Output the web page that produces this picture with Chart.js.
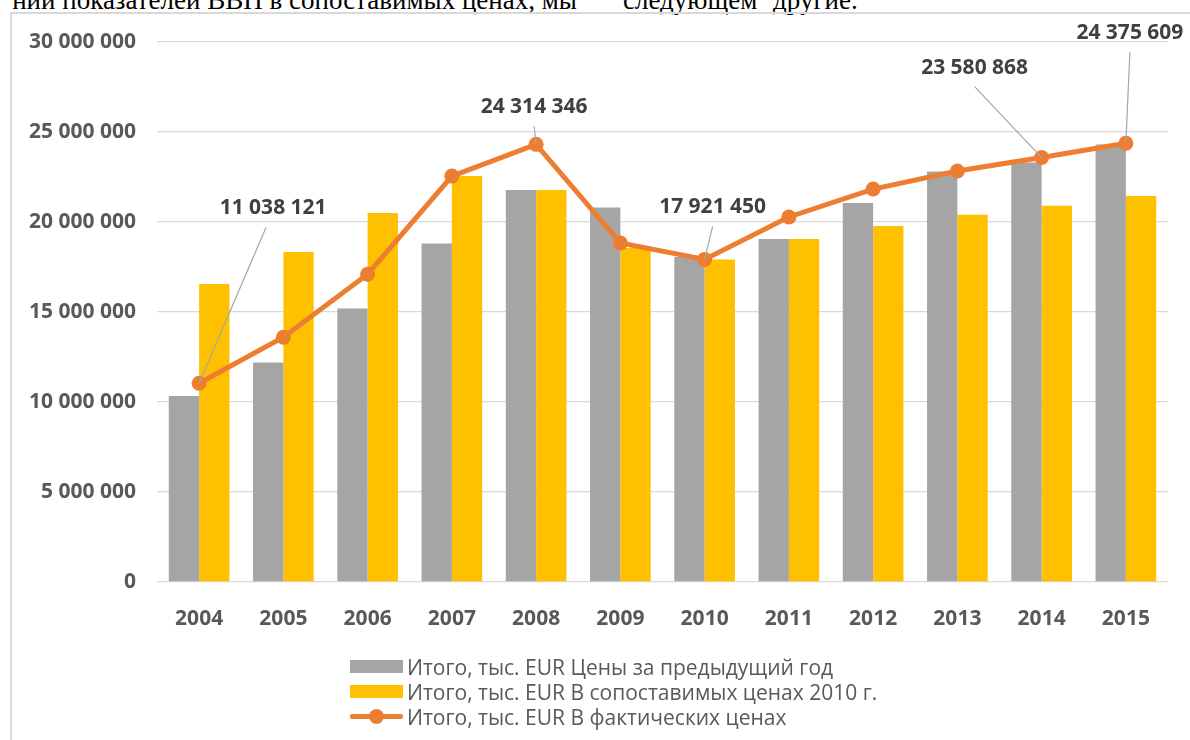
<!DOCTYPE html>
<html><head><meta charset="utf-8">
<script src="https://cdn.jsdelivr.net/npm/chart.js@4.4.1/dist/chart.umd.min.js"></script>
<style>
html,body{margin:0;padding:0;background:#fff;width:1190px;height:740px;overflow:hidden;}
.doc{position:absolute;top:-14px;font-family:"Liberation Serif",serif;font-size:27px;white-space:pre;color:#000;line-height:28px;}
#frame{position:absolute;left:10px;top:12px;width:1200px;height:800px;border-left:2px solid #d9d9d9;border-top:2px solid #d9d9d9;}
#c{position:absolute;left:0;top:0;}
#legend{position:absolute;left:350px;top:654px;font-family:"Open Sans",sans-serif;font-size:21px;color:#595959;}
.li{height:25px;display:flex;align-items:center;white-space:nowrap;}
.sw{width:53px;height:13px;margin-right:4px;position:relative;flex:none;}
</style></head>
<body>
<div class="doc" style="right:613px;text-align:right">ний показателей ВВП в сопоставимых ценах, мы</div>
<div class="doc" style="left:623px">следующем</div>
<div class="doc" style="left:773px">другие.</div>
<div id="frame"></div>
<canvas id="c" width="1190" height="740"></canvas>
<div id="legend"></div>
<script>
const categories = ['2004','2005','2006','2007','2008','2009','2010','2011','2012','2013','2014','2015'];
const prevYearPrices = [10330000, 12200000, 15200000, 18800000, 21780000, 20800000, 18050000, 19050000, 21050000, 22800000, 23300000, 24300000];
const constPrices2010 = [16550000, 18330000, 20500000, 22550000, 21780000, 18550000, 17921450, 19050000, 19780000, 20400000, 20900000, 21450000];
const actualPrices = [11038121, 13600000, 17100000, 22550000, 24314346, 18830000, 17921450, 20280000, 21830000, 22830000, 23580868, 24375609];
const seriesNames = ['Итого, тыс. EUR Цены за предыдущий год', 'Итого, тыс. EUR В сопоставимых ценах 2010 г.', 'Итого, тыс. EUR В фактических ценах'];
const yMin = 0, yMax = 30000000, yStep = 5000000;
const labeledIndices = [0, 4, 6, 10, 11];

// label placement (pixel offsets from the point), kept apart from data
const labelOffsets = {0:[74,-175], 4:[-2,-37], 6:[8,-52], 10:[-67,-90], 11:[4,-110]};

const colors = ['#a5a5a5', '#ffc000', '#ed7d31'];

function fmt(v){
  return Math.round(v).toString().replace(/\B(?=(\d{3})+(?!\d))/g, ' ');
}

const labelPlugin = {
  id: 'leaderLabels',
  afterDatasetsDraw(chart){
    const ctx = chart.ctx;
    const meta = chart.getDatasetMeta(2);
    ctx.save();
    ctx.font = 'bold 21px "Open Sans"';
    ctx.textAlign = 'center';
    ctx.textBaseline = 'middle';
    labeledIndices.forEach(i => {
      const p = meta.data[i];
      const off = labelOffsets[i];
      const lx = p.x + off[0], ly = p.y + off[1];
      ctx.strokeStyle = '#a6a6a6';
      ctx.lineWidth = 1.2;
      ctx.beginPath();
      ctx.moveTo(lx + (i===0 ? -7 : 0), ly + 19);
      ctx.lineTo(p.x, p.y);
      ctx.stroke();
      ctx.fillStyle = '#404040';
      ctx.fillText(fmt(actualPrices[i]), lx, ly);
    });
    ctx.restore();
  }
};

const chart = new Chart(document.getElementById('c'), {
  type: 'bar',
  data: {
    labels: categories,
    datasets: [
      {type:'bar', label: seriesNames[0], data: prevYearPrices, backgroundColor: colors[0], order: 1, barPercentage: 1, categoryPercentage: 0.72},
      {type:'bar', label: seriesNames[1], data: constPrices2010, backgroundColor: colors[1], order: 2, barPercentage: 1, categoryPercentage: 0.72},
      {type:'line', label: seriesNames[2], data: actualPrices, borderColor: colors[2], backgroundColor: colors[2], borderWidth: 5, pointRadius: 7.5, pointHoverRadius: 7.5, pointBorderWidth: 0, pointBackgroundColor: colors[2], tension: 0, order: 0}
    ]
  },
  options: {
    responsive: false,
    animation: false,
    devicePixelRatio: 1,
    layout: {padding: {left: 0, right: 22, top: 42, bottom: 108}},
    plugins: {legend: {display: false}, tooltip: {enabled: false}},
    scales: {
      x: {
        grid: {display: false},
        border: {display: false},
        ticks: {color: '#595959', font: {family: 'Open Sans', weight: 'bold', size: 21}, padding: 16, maxRotation: 0},
        afterFit(s){ s.height = 50; }
      },
      y: {
        min: yMin, max: yMax,
        grid: {color: '#d9d9d9', lineWidth: 1.3, drawTicks: false},
        border: {display: false},
        ticks: {stepSize: yStep, color: '#595959', font: {family: 'Open Sans', weight: 'bold', size: 21}, padding: 21, callback: v => fmt(v)},
        afterFit(s){ s.width = 157; }
      }
    }
  },
  plugins: [labelPlugin]
});

// HTML legend
const leg = document.getElementById('legend');
chart.data.datasets.forEach((ds, i) => {
  const row = document.createElement('div'); row.className = 'li';
  const sw = document.createElement('div'); sw.className = 'sw';
  if (ds.type === 'line') {
    sw.innerHTML = '<div style="position:absolute;left:0;right:0;top:4px;height:5px;background:'+ds.borderColor+';border-radius:2px"></div>'+
      '<div style="position:absolute;left:19px;top:-1px;width:15px;height:15px;border-radius:50%;background:'+ds.borderColor+'"></div>';
  } else {
    sw.style.background = ds.backgroundColor;
  }
  const tx = document.createElement('span'); tx.textContent = ds.label;
  row.appendChild(sw); row.appendChild(tx); leg.appendChild(row);
});
</script>
</body></html>
